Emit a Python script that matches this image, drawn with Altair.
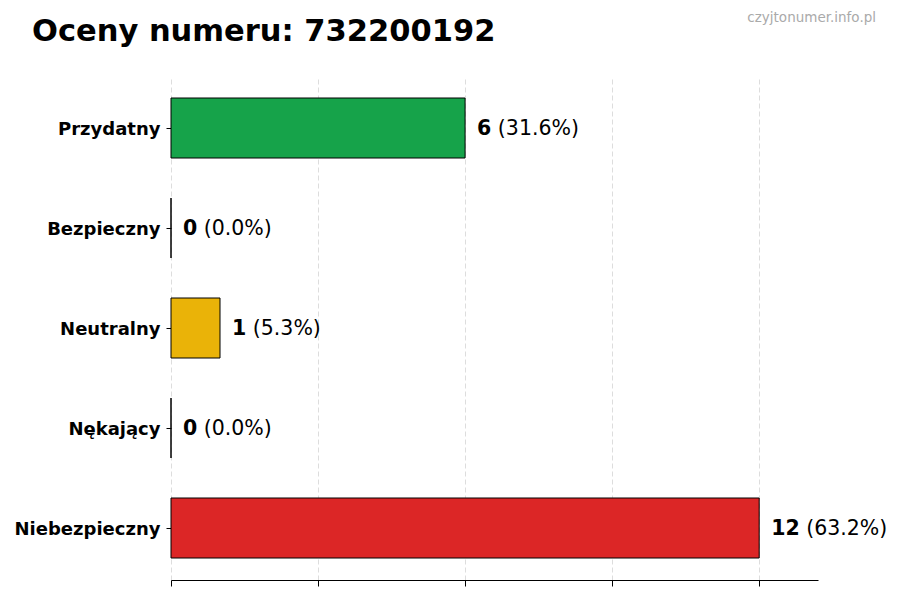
import altair as alt
import pandas as pd

categories = ["Przydatny", "Bezpieczny", "Neutralny", "Nękający", "Niebezpieczny"]
counts = [6, 0, 1, 0, 12]
percents = ["31.6%", "0.0%", "5.3%", "0.0%", "63.2%"]
colors = ["#16a34a", "#6b7280", "#eab308", "#f97316", "#dc2626"]
x_ticks = [0, 3, 6, 9, 12]
title_text = "Oceny numeru: 732200192"
watermark = "czyjtonumer.info.pl"

df = pd.DataFrame({
    "category": categories,
    "count": counts,
    "pct": percents,
})
df["count_label"] = [str(c) for c in counts]
df["pct_label"] = ["(" + p + ")" for p in percents]

FONT = "DejaVu Sans"
LABEL_SIZE = 20.5

y_enc = alt.Y(
    "category:N",
    sort=categories,
    scale=alt.Scale(paddingInner=0.4, paddingOuter=0.22),
    axis=alt.Axis(
        title=None,
        labelFont=FONT,
        labelFontWeight="bold",
        labelFontSize=18,
        labelColor="black",
        labelOffset=1.5,
        tickColor="black",
        tickSize=5,
        tickWidth=1,
        labelPadding=6,
        domain=False,
        grid=False,
    ),
)

x_enc = alt.X(
    "count:Q",
    scale=alt.Scale(domain=[0, 13.2], nice=False, zero=True),
    axis=alt.Axis(
        title=None,
        values=x_ticks,
        labels=False,
        tickColor="black",
        tickSize=6,
        tickWidth=1,
        domainColor="black",
        domainWidth=1,
        grid=True,
        gridDash=[5, 3],
        gridColor="#d4d4d4",
        gridWidth=0.8,
    ),
)

base = alt.Chart(df)

bars = base.mark_bar(stroke="black", strokeWidth=1, cornerRadius=0).encode(
    x=x_enc,
    y=y_enc,
    color=alt.Color("category:N", scale=alt.Scale(domain=categories, range=colors), legend=None),
)

num_text = base.mark_text(
    align="left", baseline="middle", dx=12, dy=1, fontSize=LABEL_SIZE, fontWeight="bold", font=FONT, color="black"
).encode(x="count:Q", y=alt.Y("category:N", sort=categories), text="count_label:N")

# the percentage follows the bold count: offset = gap + count width (bold digits) + a space
pct_text = base.mark_text(
    align="left", baseline="middle", dy=1,
    dx=alt.expr("12 + length(datum.count_label) * 14.27 + 6.5"),
    fontSize=LABEL_SIZE, fontWeight="normal", font=FONT, color="black"
).encode(x="count:Q", y=alt.Y("category:N", sort=categories), text="pct_label:N")

title_mark = alt.Chart(pd.DataFrame({"t": [title_text]})).mark_text(
    align="left", baseline="alphabetic", fontSize=30.5, fontWeight="bold", font=FONT, color="black"
).encode(x=alt.value(-139), y=alt.value(-35), text="t:N")

wm = alt.Chart(pd.DataFrame({"t": [watermark]})).mark_text(
    align="right", baseline="alphabetic", fontSize=13.5, font=FONT, color="#aaaaaa"
).encode(x=alt.value(705), y=alt.value(-54), text="t:N")

chart = alt.layer(bars, num_text, pct_text, title_mark, wm).properties(
    width=647,
    height=504,
    autosize=alt.AutoSizeParams(type="none"),
    padding={"left": 163, "top": 68, "right": 70, "bottom": 10},
    background="white",
).configure_view(stroke=None)

chart.save("out.html", embed_options={"renderer": "svg", "actions": False})
